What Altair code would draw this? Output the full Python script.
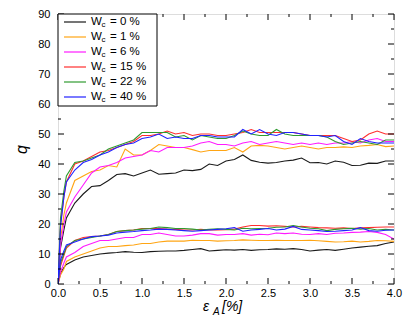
import altair as alt
import pandas as pd

# strain grid (%)
eps = [0.0, 0.03, 0.07, 0.1, 0.2, 0.3, 0.4, 0.5, 0.6, 0.7, 0.8, 0.9, 1.0,
       1.1, 1.2, 1.3, 1.4, 1.5, 1.6, 1.7, 1.8, 1.9, 2.0, 2.1, 2.2, 2.3, 2.4,
       2.5, 2.6, 2.7, 2.8, 2.9, 3.0, 3.1, 3.2, 3.3, 3.4, 3.5, 3.6, 3.7, 3.8,
       3.9, 4.0]

wc_labels = ["0", "1", "6", "15", "22", "40"]
colors = ["#1a1a1a", "#ffa514", "#ff1aff", "#ff2e2e", "#2f9a2f", "#2121ff"]

# upper branch
hi_w0 = [0, 12, 18, 22, 27, 30, 32.5, 32.8, 34.5, 36.5, 36.8, 36, 37, 38, 36.6, 36.8, 37, 38, 37.8,
         38.2, 40, 39.5, 41, 41.5, 43, 41.2, 40.6, 40.3, 40.5, 41, 41.3, 42, 40.4, 40.5, 40, 41, 40.6,
         39.5, 39.6, 40.3, 40.2, 41, 41]
hi_w1 = [0, 15, 23, 27, 34.5, 36, 37.5, 38, 39.5, 39, 45, 43, 43, 44.5, 46.5, 46, 45.5, 45.5, 44.8,
         44, 44.5, 44.5, 44.5, 45.5, 44, 46, 46.2, 46, 45.5, 45, 45.5, 46, 45.5, 45, 45.5, 45.5, 45.7,
         45.5, 46, 46.2, 46.5, 45.8, 46]
hi_w6 = [0, 13, 20, 24, 29, 33, 37, 39, 39.5, 40.5, 42, 42.5, 43, 44.5, 44, 45.5, 45.5, 45.5, 46,
         47, 47.5, 46.5, 46.5, 46, 47, 47.5, 46.5, 47, 47.5, 47, 46.5, 47, 46.5, 47, 46.5, 47, 47,
         47.5, 47, 48, 48.5, 47.5, 47.5]
hi_w15 = [0, 20, 29, 34, 40, 41, 42.5, 44, 44.5, 45.5, 46.5, 47.5, 49.5, 49.5, 50, 51, 50, 50.5,
          49.5, 50, 50, 49.5, 49.5, 50, 50.5, 51.5, 50.5, 50.5, 50.5, 50.5, 50.5, 50, 49.5, 49.5,
          49.5, 49.5, 48.5, 47.5, 48, 50, 51, 50, 50]
hi_w22 = [0, 22, 31, 36, 40.5, 41, 42, 43, 45, 46, 47, 48, 50.5, 50.5, 50.5, 50.5, 49, 49.5, 48,
          49.5, 49, 48.5, 48.5, 49.5, 51, 50, 49.5, 49.5, 51.5, 50, 49.5, 49.5, 49.5, 49.5, 49,
          47.5, 46.5, 47, 47.5, 47, 46.5, 48, 48]
hi_w40 = [0, 19, 29, 34, 38, 40.5, 41.5, 43, 44, 45.5, 46.5, 47, 48.5, 49, 50, 48.5, 49, 48.5,
          48.5, 49.5, 49.5, 49, 49, 49, 51.5, 50, 51.5, 50, 49.5, 50.5, 50.5, 50, 49.5, 49.5, 49,
          49.5, 47.5, 46.5, 48.5, 47.5, 47, 47, 47]

# lower branch
lo_w0 = [0, 3.5, 5.5, 6.5, 8, 9, 9.5, 10, 10.3, 10.5, 10.8, 10.6, 10.5, 10.8, 10.9, 11, 11, 11.2,
         11.5, 11.8, 11, 11.2, 11.4, 11.3, 11.5, 11.2, 11.4, 11.5, 11.7, 11.6, 11.8, 11.5, 11, 11.3,
         11.5, 11.2, 11.6, 12, 12.3, 12.6, 12.8, 13.5, 14]
lo_w1 = [0, 3, 5, 7.5, 9, 10, 11, 12, 12.5, 12.5, 12.8, 13, 13.5, 13.5, 14, 14.3, 14.3, 14.3, 14.6,
         14.5, 14.5, 14.3, 14.4, 14.5, 14.7, 14.6, 14.5, 14.5, 14.6, 14.5, 14.5, 14.5, 14.6, 14.4,
         14.2, 14, 14.1, 14.3, 14, 14.2, 14.5, 14.4, 14.2]
lo_w6 = [0, 4, 7, 9, 10.5, 12.5, 13.5, 14.5, 14.5, 15, 15.5, 15.5, 16.5, 16.5, 17, 16.5, 16, 16,
         16.3, 16.8, 16.8, 16.3, 16.5, 16.5, 16.8, 16.3, 16.6, 16.4, 17, 16.8, 17, 16.6, 16.5, 16.8,
         16.5, 16.9, 17, 17.2, 17.3, 17.5, 17.2, 16.5, 15]
lo_w15 = [0, 6, 9.5, 12, 14.5, 15.5, 15.8, 16, 16.5, 17.5, 17.8, 18, 18.5, 18.5, 18.5, 18.3, 18.2,
          18, 18, 18.2, 18, 18, 18.1, 18.3, 19, 19.5, 19.5, 19.3, 19.4, 19.2, 19, 19.2, 19, 18.8,
          18.7, 18.6, 18.7, 18.5, 18.7, 18.8, 18.9, 19, 19]
lo_w22 = [0, 7, 10, 12.5, 14.5, 15, 15.5, 16, 16.5, 17.5, 17.8, 18, 18.3, 18.5, 19, 18.8, 18.5,
          18.5, 18.3, 18, 18.2, 18.4, 18.2, 18, 18.6, 18.4, 18.5, 18.6, 18.9, 19, 19.5, 19, 18.6,
          18.4, 17.8, 18.2, 18.4, 18.6, 18.3, 18.5, 18, 18.2, 18]
lo_w40 = [0, 8, 11, 13, 14, 15, 15.8, 16, 16.3, 17, 17.3, 17.5, 17.8, 18, 18.3, 18.2, 18, 17.8,
          17.6, 17.8, 18, 18.2, 18.4, 18.8, 17.6, 18, 18.2, 18.5, 18, 18.3, 19.2, 18.2, 18, 17.8,
          17.5, 17.6, 17.8, 18, 18.8, 17.8, 17.6, 17.9, 18]

x_ticks_major = [0.0, 0.5, 1.0, 1.5, 2.0, 2.5, 3.0, 3.5, 4.0]
x_ticks_minor = [0.25, 0.75, 1.25, 1.75, 2.25, 2.75, 3.25, 3.75]
y_ticks_major = [0, 10, 20, 30, 40, 50, 60, 70, 80, 90]
y_ticks_minor = [5, 15, 25, 35, 45, 55, 65, 75, 85]

W, H = 336, 270
XMAX, YMAX = 4.0, 90.0
FONT = "Liberation Sans"

hi = [hi_w0, hi_w1, hi_w6, hi_w15, hi_w22, hi_w40]
lo = [lo_w0, lo_w1, lo_w6, lo_w15, lo_w22, lo_w40]
rows = []
for k, lab in enumerate(wc_labels):
    for branch, series in (("hi", hi[k]), ("lo", lo[k])):
        for e, q in zip(eps, series):
            rows.append({"eps": e, "q": q, "wc": lab, "branch": branch,
                         "key": f"{k}-{branch}", "ord": k})
df = pd.DataFrame(rows)

xs = alt.Scale(domain=[0, XMAX], nice=False, zero=False)
ys = alt.Scale(domain=[0, YMAX], nice=False, zero=False)
xaxis = alt.Axis(values=x_ticks_major, format=".1f", ticks=False, domain=False,
                 grid=False, labelFont=FONT, labelFontSize=11, labelColor="#000",
                 labelPadding=3, labelFlush=False, labelOverlap=False, title=None)
yaxis = alt.Axis(values=y_ticks_major, ticks=False, domain=False, grid=False,
                 labelFont=FONT, labelFontSize=11, labelColor="#000",
                 labelPadding=8, labelFlush=False, labelOverlap=False,
                 title="q", titleFont=FONT, titleFontSize=16,
                 titleFontStyle="italic", titleFontWeight="normal",
                 titleColor="#000", titlePadding=8)


def X(f):
    return alt.X(f, scale=xs, axis=xaxis, title=None)


def Y(f):
    return alt.Y(f, scale=ys, axis=yaxis, title="q")


lines = alt.Chart(df).mark_line(strokeWidth=1.1, clip=True).encode(
    x=X("eps:Q"),
    y=Y("q:Q"),
    color=alt.Color("wc:N", scale=alt.Scale(domain=wc_labels, range=colors), legend=None),
    detail="key:N",
    order="ord:Q",
)


# inward ticks on all four sides
def xtick_layer(vals, length):
    d = pd.DataFrame({"t": vals})
    b = alt.Chart(d).mark_rule(color="#000", strokeWidth=1).encode(
        x=X("t:Q"), y=alt.value(H), y2=alt.value(H - length))
    t = alt.Chart(d).mark_rule(color="#000", strokeWidth=1).encode(
        x=X("t:Q"), y=alt.value(0), y2=alt.value(length))
    return b + t


def ytick_layer(vals, length):
    d = pd.DataFrame({"t": vals})
    l = alt.Chart(d).mark_rule(color="#000", strokeWidth=1).encode(
        y=Y("t:Q"), x=alt.value(0), x2=alt.value(length))
    r = alt.Chart(d).mark_rule(color="#000", strokeWidth=1).encode(
        y=Y("t:Q"), x=alt.value(W), x2=alt.value(W - length))
    return l + r


ticks = (xtick_layer(x_ticks_major, 6) + xtick_layer(x_ticks_minor, 3) +
         ytick_layer(y_ticks_major, 6) + ytick_layer(y_ticks_minor, 3))

# legend (positions converted from pixel offsets into data units)
px2x = XMAX / W
px2y = YMAX / H
box = alt.Chart(pd.DataFrame({"a": [0]})).mark_rect(
    fill="white", stroke="#000", strokeWidth=1).encode(
    x=alt.value(0), x2=alt.value(99), y=alt.value(0), y2=alt.value(92))

leg_rows = []
for i, lab in enumerate(wc_labels):
    py = 8 + 15 * i
    leg_rows.append({"wc": lab, "x1": 6 * px2x, "x2": 28 * px2x,
                     "xw": 33 * px2x, "xc": 43.5 * px2x, "xe": 52 * px2x,
                     "y": YMAX - py * px2y, "yc": YMAX - (py + 3) * px2y,
                     "txt": f"= {lab} %"})
ldf = pd.DataFrame(leg_rows)
cscale = alt.Scale(domain=wc_labels, range=colors)
leg_lines = alt.Chart(ldf).mark_rule(strokeWidth=1.2).encode(
    x=X("x1:Q"), x2="x2:Q", y=Y("y:Q"),
    color=alt.Color("wc:N", scale=cscale, legend=None))
leg_w = alt.Chart(ldf).mark_text(align="left", baseline="middle", font=FONT,
                                  fontSize=11.5, color="#000").encode(
    x=X("xw:Q"), y=Y("y:Q"), text=alt.value("W"))
leg_c = alt.Chart(ldf).mark_text(align="left", baseline="middle", font=FONT,
                                  fontSize=8, color="#000").encode(
    x=X("xc:Q"), y=Y("yc:Q"), text=alt.value("c"))
leg_t = alt.Chart(ldf).mark_text(align="left", baseline="middle", font=FONT,
                                  fontSize=11.5, color="#000").encode(
    x=X("xe:Q"), y=Y("y:Q"), text="txt:N")

# x-axis title: epsilon_A [%]
one = pd.DataFrame({"a": [0]})
xt1 = alt.Chart(one).mark_text(align="left", baseline="alphabetic", font=FONT, fontSize=14,
                                fontStyle="italic", color="#000").encode(
    x=alt.value(145), y=alt.value(297), text=alt.value("ε"))
xt2 = alt.Chart(one).mark_text(align="left", baseline="alphabetic", font=FONT, fontSize=10,
                                fontStyle="italic", color="#000").encode(
    x=alt.value(155), y=alt.value(301), text=alt.value("A"))
xt3 = alt.Chart(one).mark_text(align="left", baseline="alphabetic", font=FONT, fontSize=14,
                                fontStyle="italic", color="#000").encode(
    x=alt.value(164), y=alt.value(297), text=alt.value("[%]"))

chart = alt.layer(lines, ticks, box, leg_lines, leg_w, leg_c, leg_t, xt1, xt2, xt3).properties(
    width=W, height=H,
    autosize=alt.AutoSizeParams(type="none"),
    padding={"left": 50, "top": 6, "right": 10, "bottom": 40},
).configure_view(stroke="#000", strokeWidth=1).configure(background="white")

chart.save("out.html", embed_options={"renderer": "svg", "actions": False})
